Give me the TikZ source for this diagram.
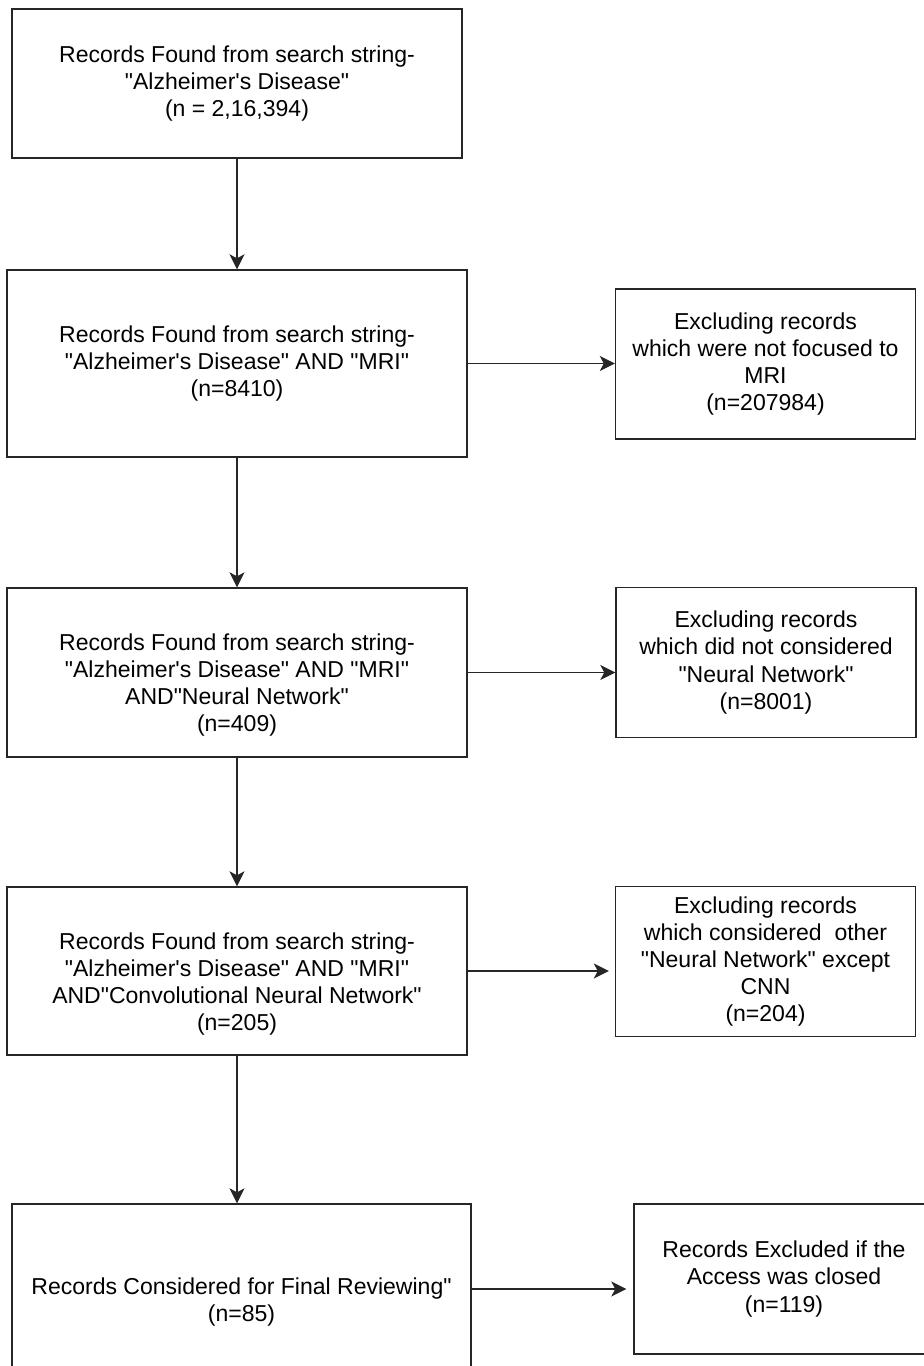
\documentclass[tikz,border=0pt]{standalone}
\usepackage{fontspec}
\setmainfont{Liberation Sans}[Ligatures=TeXOff]
\usetikzlibrary{arrows.meta}
\tikzset{
recbox/.style={draw=black!85, line width=0.8pt, align=center, inner sep=0pt,
  font=\fontsize{13.1pt}{15.4pt}\selectfont},
exclbox/.style={recbox, minimum width=6cm, minimum height=3cm},
flowarrow/.style={draw=black!85, line width=0.8pt,
  -{Stealth[length=0.3cm,width=0.3cm,inset=0.08cm]}}
}
\newcommand{\lowfirst}{\rule{0pt}{0.85cm}}

\begin{document}
\begin{tikzpicture}
  \useasboundingbox (0,0) rectangle (18.46,-27.32);
  % search steps
  \node[recbox, minimum width=9cm, minimum height=2.98cm] (b1) at (4.74,-1.67)
    {Records Found from search string-\\"Alzheimer's Disease"\\(n = 2,16,394)};
  \node[recbox, minimum width=9.2cm, minimum height=3.74cm] (b2) at (4.74,-7.27)
    {Records Found from search string-\\"Alzheimer's Disease" AND "MRI"\\(n=8410)};
  \node[recbox, minimum width=9.2cm, minimum height=3.38cm] (b3) at (4.74,-13.45)
    {\lowfirst Records Found from search string-\\"Alzheimer's Disease" AND "MRI"\\AND"Neural Network"\\(n=409)};
  \node[recbox, minimum width=9.2cm, minimum height=3.36cm] (b4) at (4.74,-19.42)
    {\lowfirst Records Found from search string-\\"Alzheimer's Disease" AND "MRI"\\AND"Convolutional Neural Network"\\(n=205)};
  \node[recbox, minimum width=9.18cm, minimum height=3.4cm] (b5) at (4.83,-25.78)
    {\lowfirst Records Considered for Final Reviewing"\\(n=85)};
  % exclusions
  \node[exclbox] (e1) at (15.31,-7.28)
    {Excluding records\\which were not focused to\\MRI\\(n=207984)};
  \node[exclbox] (e2) at (15.32,-13.25)
    {Excluding records\\which did not considered\\"Neural Network"\\(n=8001)};
  \node[exclbox] (e3) at (15.31,-19.23)
    {Excluding records\\which considered\ \ other\\"Neural Network" except\\CNN\\(n=204)};
  \node[exclbox] (e4) at (15.68,-25.58)
    {Records Excluded if the\\Access was closed\\(n=119)};
  % arrows
  \draw[flowarrow] (b1.south) -- (b2.north);
  \draw[flowarrow] (b2.south) -- (b3.north);
  \draw[flowarrow] (b3.south) -- (b4.north);
  \draw[flowarrow] (b4.south) -- (b4.south |- b5.north);
  \draw[flowarrow] (b2.east) -- (b2.east -| e1.west);
  \draw[flowarrow] (b3.east) -- (b3.east -| e2.west);
  \draw[flowarrow, shorten >=1.2mm] (b4.east) -- (b4.east -| e3.west);
  \draw[flowarrow, shorten >=1.4mm] (b5.east) -- (b5.east -| e4.west);
\end{tikzpicture}
\end{document}
